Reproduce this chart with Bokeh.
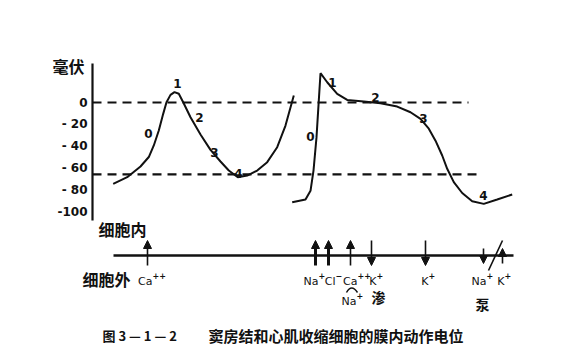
from bokeh.plotting import figure
from bokeh.models import Range1d, FixedTicker, Arrow, NormalHead
from bokeh.core.properties import value
from bokeh.embed import file_html
from bokeh.resources import INLINE

# ---- membrane potential traces (time in arbitrary units, potential in mV) ----
sa_t = [20.7, 34.7, 48, 56.3, 61.3, 66.3, 70.7, 74, 78, 82, 86.3, 90.7, 98, 108,
        118, 128, 136.3, 145.3, 154.7, 164.7, 174.7, 184.7, 193, 201.3]
sa_mv = [-74.6, -68.5, -58.7, -50, -39.4, -25.7, -10.4, 0.3, 7, 9.5, 8, 0.3, -13.5,
         -29.4, -43.4, -54.1, -62.4, -68.5, -67, -62.4, -54.7, -41, -21.1, 6.4]

vm_t = [199.7, 213, 218, 221, 224, 226.3, 228, 234.7, 244.7, 254.7, 271.3, 288,
        304.7, 318, 328, 336.3, 343, 349.7, 354.7, 361.3, 369.7, 379.7, 391.3,
        404.7, 419.7]
vm_mv = [-91.5, -89, -81, -62.4, -32, 2, 26.9, 18.6, 8, 2.4, 0.9, -0.6, -3.7, -8.9,
         -15, -24, -35, -48.6, -60.8, -73, -83, -90.5, -93, -89, -84.4]

# reference levels: zero line and threshold line
zero_level = 0
threshold_level = -66

# phase numbers 0-4 for each trace
phase_text = ["0", "1", "2", "3", "4"]
sa_phase_t = [56, 85, 107, 122, 146]
sa_phase_mv = [-28.4, 17.4, -13.8, -45.9, -65]
vm_phase_t = [218, 240, 283, 331, 391]
vm_phase_mv = [-31, 18.3, 4.6, -14.7, -85]

y_ticks = [0, -20, -40, -60, -80, -100]
y_tick_labels = ["0", "- 20", "- 40", "- 60", "- 80", "-100"]

# ---- ion currents across the membrane ----
ion_base = ["Ca", "Na", "Cl", "Ca", "K", "K", "Na", "K"]
ion_charge = ["++", "+", "−", "++", "+", "+", "+", "+"]
ion_t = [55, 223, 236, 258, 279, 333, 391, 410]
ion_dir = ["in", "in", "in", "in", "out", "out", "out", "in"]
ion_bold = [False, True, True, False, False, False, False, False]
ion_pump = [False, False, False, False, False, False, True, True]
label_dx = [5, 3, 7, 7, 5, 3, 3, 2]

ink = "#111111"
num_font = value("DejaVu Sans")
cjk_font = value("Noto Sans CJK SC")

# one canvas: potential scale (mV) for the traces, a top-down scale for the
# membrane diagram and caption underneath
p = figure(width=584, height=350, x_range=Range1d(-92, 492),
           y_range=Range1d(-227.5, 93.6), x_axis_type=None,
           output_backend="svg", toolbar_location=None,
           min_border_left=0, min_border_right=0, min_border_top=0,
           min_border_bottom=0)
p.extra_y_ranges = {"ions": Range1d(350, 0)}
p.outline_line_color = None
p.grid.visible = False
p.background_fill_color = "white"
p.border_fill_color = "white"

ax = p.yaxis[0]
ax.fixed_location = 0
ax.bounds = (-108.3, 35.8)
ax.ticker = FixedTicker(ticks=y_ticks)
ax.major_label_overrides = {t: s for t, s in zip(y_ticks, y_tick_labels)}
ax.axis_line_width = 2.2
ax.axis_line_color = ink
ax.major_tick_out = 0
ax.major_tick_in = 0
ax.minor_tick_out = 0
ax.minor_tick_in = 0
ax.major_label_standoff = 5
ax.major_label_text_font = "DejaVu Sans"
ax.major_label_text_font_style = "bold"
ax.major_label_text_font_size = "12px"
ax.major_label_text_color = ink

p.text([-40], [33.9], text=["毫伏"], text_font=cjk_font, text_font_size="16px",
       text_font_style="bold", text_color=ink, text_align="left",
       text_baseline="middle")

p.line([0, 376], [zero_level, zero_level], line_color=ink, line_width=2.2,
       line_dash="9 6")
p.line([0, 386], [threshold_level, threshold_level], line_color=ink,
       line_width=2.2, line_dash="9 6")

p.line(sa_t, sa_mv, line_color=ink, line_width=2)
p.line(vm_t, vm_mv, line_color=ink, line_width=2)

for ts, vs in ((sa_phase_t, sa_phase_mv), (vm_phase_t, vm_phase_mv)):
    p.text(ts, vs, text=phase_text, text_font=num_font, text_font_size="12px",
           text_font_style="bold", text_color=ink, text_align="center",
           text_baseline="middle")

# ---------------- membrane and ion flows ----------------
R = "ions"
membrane_y = 255
p.line([21, 421], [membrane_y, membrane_y], line_color=ink, line_width=2.5,
       y_range_name=R)

for t, d, bold, pump in zip(ion_t, ion_dir, ion_bold, ion_pump):
    top, bottom = (248, 263) if pump else (240, 265)
    ys, ye = (bottom, top) if d == "in" else (top, bottom)
    p.add_layout(Arrow(x_start=t, y_start=ys, x_end=t, y_end=ye,
                       line_color=ink, line_width=3 if bold else 1.6,
                       y_range_name=R,
                       end=NormalHead(size=8, fill_color=ink, line_color=ink,
                                      line_width=1)))

label_x = [t + dx for t, dx in zip(ion_t, label_dx)]
p.text(label_x, [281] * len(ion_t), text=ion_base, text_font=num_font,
       text_font_size="11px", text_color=ink, text_align="right",
       text_baseline="middle", y_range_name=R)
p.text(label_x, [275] * len(ion_t), text=ion_charge, text_font=num_font,
       text_font_size="8px", text_font_style="bold", text_color=ink,
       text_align="left", text_baseline="middle", y_range_name=R)

# pump stroke through the Na/K pair
p.line([396, 410], [270, 240], line_color=ink, line_width=1.6, y_range_name=R)

# Ca-Na exchange mark
p.quadratic(x0=[254], y0=[292], x1=[265], y1=[292], cx=[259], cy=[283],
            line_color=ink, line_width=1.5, y_range_name=R)
p.text([264], [301], text=["Na"], text_font=num_font, text_font_size="11px",
       text_color=ink, text_align="right", text_baseline="middle",
       y_range_name=R)
p.text([264], [295], text=["+"], text_font=num_font, text_font_size="8px",
       text_font_style="bold", text_color=ink, text_align="left",
       text_baseline="middle", y_range_name=R)

p.text([286, 390], [296, 303], text=["渗", "泵"], text_font=cjk_font,
       text_font_size="14px", text_font_style="bold", text_color=ink,
       text_align="center", text_baseline="middle", y_range_name=R)

p.text([6], [228], text=["细胞内"], text_font=cjk_font, text_font_size="16px",
       text_font_style="bold", text_color=ink, text_align="left",
       text_baseline="middle", y_range_name=R)
p.text([-10], [278], text=["细胞外"], text_font=cjk_font, text_font_size="16px",
       text_font_style="bold", text_color=ink, text_align="left",
       text_baseline="middle", y_range_name=R)

p.text([10], [335], text=["图 3 — 1 — 2"], text_font=cjk_font,
       text_font_size="13px", text_font_style="bold", text_color=ink,
       text_align="left", text_baseline="middle", y_range_name=R)
p.text([116], [335], text=["窦房结和心肌收缩细胞的膜内动作电位"],
       text_font=cjk_font, text_font_size="15px", text_font_style="bold",
       text_color=ink, text_align="left", text_baseline="middle",
       y_range_name=R)

open("out.html", "w").write(file_html(p, INLINE))
